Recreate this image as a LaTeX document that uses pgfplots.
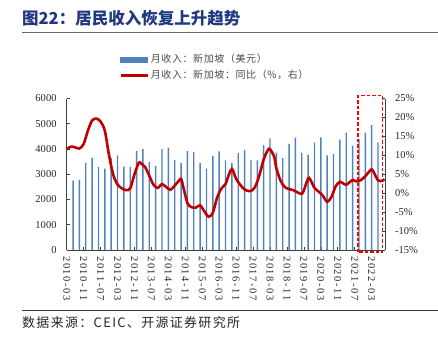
\documentclass[border=0pt]{standalone}
\usepackage{pgfplots}
\pgfplotsset{compat=1.18}
\usepackage{fontspec}
\setmainfont{Liberation Serif}
\newfontfamily\cjk{Noto Sans CJK SC}
\definecolor{barblue}{RGB}{79,129,189}
\definecolor{linered}{RGB}{192,0,0}
\definecolor{boxred}{RGB}{255,0,0}
\definecolor{titleblue}{RGB}{32,56,128}
\begin{document}
\begin{tikzpicture}[x=1pt,y=1pt]
\useasboundingbox (0,0) rectangle (438,346);
% title
\node[anchor=west, inner sep=0pt, text=titleblue, font=\cjk\bfseries\fontsize{16.5}{18}\selectfont] at (22,327.5) {图22：居民收入恢复上升趋势};
\draw[black!60, line width=0.9pt] (22,313.5) -- (438,313.5);
\draw[black!80, line width=0.9pt] (22,36) -- (438,36);
\node[anchor=west, inner sep=0pt, text=black!85, font=\cjk\fontsize{13}{15}\selectfont\addfontfeature{LetterSpace=10}] at (22,23.3) {数据来源：CEIC、开源证券研究所};

\begin{axis}[
  at={(66.7pt,96pt)}, anchor=south west, scale only axis,
  width=318.3pt, height=151.5pt,
  xmin=0, xmax=150.3, ymin=0, ymax=6000,
  axis x line*=bottom, axis y line*=left,
  axis line style={draw=black!75, line width=0.8pt},
  tick style={draw=black!75, line width=0.6pt},
  major tick length=3pt, tick align=inside,
  xtick={0,8,...,144},
  xticklabels={2010-03,2010-11,2011-07,2012-03,2012-11,2013-07,2014-03,2014-11,2015-07,2016-03,2016-11,2017-07,2018-03,2018-11,2019-07,2020-03,2020-11,2021-07,2022-03},
  x tick label style={rotate=-90, anchor=west, inner xsep=6pt, inner ysep=0pt,
     font=\fontsize{10.5}{12}\selectfont\addfontfeature{LetterSpace=15}},
  ytick={0,1000,...,6000},
  yticklabels={0,1000,2000,3000,4000,5000,6000},
  y tick label style={anchor=east, inner xsep=10pt, font=\fontsize{10.5}{12}\selectfont},
  ticklabel style={text=black!85},
  clip=false,
]
\addplot[ybar, bar width=1.4pt, fill=barblue, draw=none] coordinates {
(3,2750)(6,2775)(9,3450)(12,3650)(15,3285)(18,3225)(21,3640)(24,3745)(27,3300)(30,3290)
(33,3915)(36,4010)(39,3490)(42,3335)(45,4010)(48,4050)(51,3570)(54,3450)(57,3915)(60,3890)
(63,3450)(66,3225)(69,3730)(72,3910)(75,3545)(78,3450)(81,3840)(84,3970)(87,3570)(90,3545)
(93,4155)(96,4420)(99,3860)(102,3640)(105,4205)(108,4450)(111,3860)(114,3770)(117,4260)(120,4460)
(123,3745)(126,3810)(129,4367)(132,4650)(135,4130)(138,4400)(141,4650)(144,4945)(147,4265)
};
\coordinate (boxbl) at (axis cs:137.5,-80);
\coordinate (boxtr) at (axis cs:149.2,6110);
\end{axis}
\begin{scope}
\color{boxred}
\draw[boxred, line width=1.3pt, dash pattern=on 3.5pt off 2pt] (boxbl) -- (boxbl |- boxtr) -- (boxtr) -- (boxtr |- boxbl) -- cycle;
\end{scope}

\begin{axis}[
  at={(66.7pt,96pt)}, anchor=south west, scale only axis,
  width=318.3pt, height=151.5pt,
  xmin=0, xmax=150.3, ymin=-15, ymax=25,
  axis y line*=right, axis x line=none,
  axis line style={draw=black!75, line width=0.8pt},
  tick style={draw=black!75, line width=0.6pt},
  major tick length=3pt, tick align=inside,
  ytick={-15,-10,...,25},
  yticklabels={-15\%,-10\%,-5\%,0\%,5\%,10\%,15\%,20\%,25\%},
  y tick label style={anchor=west, inner xsep=10pt, font=\fontsize{10.5}{12}\selectfont},
  ticklabel style={text=black!85},
  legend style={at={(0.155,1.307)}, anchor=north west, draw=none, fill=none,
     font=\cjk\fontsize{10}{12}\selectfont\addfontfeature{LetterSpace=6}, text=black!70,
     row sep=6pt, nodes={inner xsep=2pt, inner ysep=0pt}},
  legend cell align=left,
]
\addlegendimage{legend image code/.code={\fill[barblue] (0pt,-2.5pt) rectangle (27pt,2.5pt);}}
\addlegendentry{月收入：新加坡（美元）}
\addplot[linered, line width=2.6pt, smooth,
  legend image code/.code={\draw[linered, line width=2.6pt] (0pt,0pt) -- (27pt,0pt);}] coordinates {
(0,11.6)(2,12.3)(4,12.1)(6,11.8)(8,13.0)(10,16.5)(12,19.2)(14,19.7)(16,18.9)(18,16.5)
(20,10.0)(22,4.8)(24,2.3)(26,1.3)(28,0.8)(30,1.3)(32,5.0)(34,8.0)(35,7.9)(37,6.9)
(39,4.6)(41,2.2)(43,1.4)(45,2.4)(47,1.6)(49,0.9)(51,2.0)(53,3.3)(54,3.8)(55,1.8)
(57,-2.6)(59,-3.7)(61,-3.8)(63,-3.2)(65,-4.8)(67,-6.2)(69,-5.2)(71,-1.2)(73,1.2)(75,2.4)
(76,4.0)(78,6.4)(80,3.8)(83,1.5)(85,0.7)(87,0.6)(89,1.7)(91,4.8)(93,8.9)(95,11.4)
(96,11.6)(98,9.6)(99,6.6)(101,3.3)(103,1.6)(105,1.1)(107,0.8)(109,0.2)(111,-0.2)(112,0.8)
(114,3.9)(115,3.6)(117,1.4)(119,0.4)(121,-0.7)(123,-2.3)(125,-1.0)(127,1.8)(129,3.0)(131,2.4)
(132,2.2)(134,3.1)(135,3.5)(137,3.1)(139,3.5)(141,4.5)(143,5.8)(144,6.3)(145,5.5)(147,3.4)
(149,3.3)(150,3.7)
};
\addlegendentry{月收入：新加坡：同比（\%，右）}
\end{axis}
\end{tikzpicture}
\end{document}
